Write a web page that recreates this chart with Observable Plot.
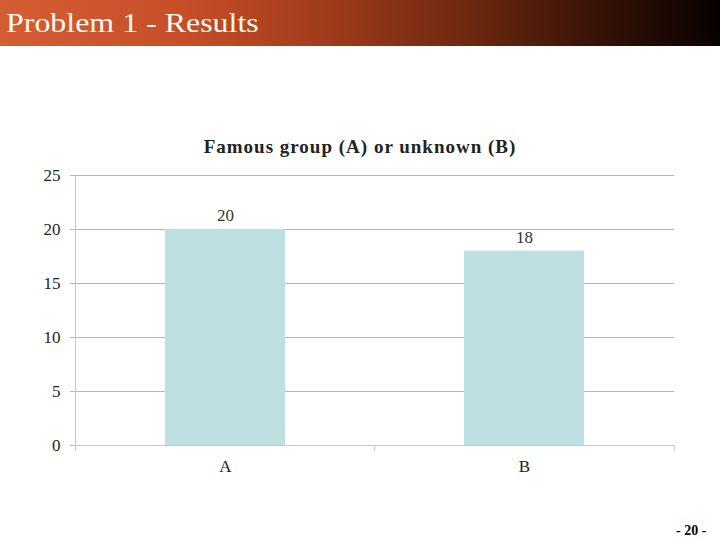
<!DOCTYPE html>
<html>
<head>
<meta charset="utf-8">
<script src="https://cdn.jsdelivr.net/npm/d3@7"></script>
<script src="https://cdn.jsdelivr.net/npm/@observablehq/plot@0.6"></script>
<style>
  html, body { margin: 0; padding: 0; background: #fff; }
  #page { position: relative; width: 720px; height: 540px; overflow: hidden; font-family: "Liberation Serif", "DejaVu Serif", serif; }
  #header { position: absolute; left: 0; top: 0; width: 720px; height: 46px;
    background: linear-gradient(to right, #d65d33 0%, #c74f28 25%, #a03c1c 45%, #6e2810 65%, #3a1406 82%, #080100 100%); }
  #header span { position: absolute; left: 6px; top: 9px; line-height: 28px; color: #fffaf0; font-size: 28px; font-family: "Liberation Serif", serif; transform: scaleX(1.14); transform-origin: left center; white-space: nowrap; }
  #ctitle { position: absolute; left: 0; width: 720px; top: 136px; text-align: center; font-weight: bold; font-size: 19px; color: #222; letter-spacing: 1px; }
  #chart { position: absolute; left: 0; top: 160px; }
  #pnum { position: absolute; left: 676px; top: 523px; font-weight: bold; font-size: 14px; color: #000; }
</style>
</head>
<body>
<div id="page">
  <div id="header"><span>Problem 1 - Results</span></div>
  <div id="ctitle">Famous group (A) or unknown (B)</div>
  <div id="chart"></div>
  <div id="pnum">- 20 -</div>
</div>
<script>
const categories = ["A", "B"];
const values = [20, 18];
const yTicks = [0, 5, 10, 15, 20, 25];

const data = categories.map((c, i) => ({cat: c, value: values[i]}));

const width = 720, height = 325;
const marginLeft = 75, marginRight = 46, marginTop = 15, marginBottom = 40;
const step = (width - marginLeft - marginRight) / categories.length;

const chart = Plot.plot({
  width, height, marginLeft, marginRight, marginTop, marginBottom,
  style: {fontFamily: "'Liberation Serif', serif", fontSize: "17px", color: "#222", background: "transparent"},
  x: {domain: categories, paddingInner: 0.6, paddingOuter: 0.3, label: null},
  y: {domain: [0, 25], label: null},
  marks: [
    Plot.ruleY(yTicks.filter(d => d > 0), {stroke: "#b5b5b5", strokeWidth: 1}),
    Plot.barY(data, {x: "cat", y: "value", fill: "#bde0e3"}),
    Plot.frame({anchor: "left", stroke: "#c8c8c8"}),
    Plot.ruleY([0], {stroke: "#c8c8c8"}),
    Plot.axisY({ticks: yTicks, tickSize: 5, tickPadding: 10, stroke: "#b5b5b5", fill: "#222", fontSize: 17, label: null}),
    Plot.axisX({tickSize: 0, tickPadding: 14, fill: "#222", fontSize: 17, label: null}),
    Plot.ruleX(categories, {x: d => d, dx: -step / 2, y1: 0, y2: 0, stroke: "#c8c8c8", insetBottom: -6}),
    Plot.ruleX([categories[categories.length - 1]], {x: d => d, dx: step / 2, y1: 0, y2: 0, stroke: "#c8c8c8", insetBottom: -6}),
    Plot.text(data, {x: "cat", y: "value", text: d => String(d.value), dy: -14, fill: "#333", fontSize: 17})
  ]
});
document.getElementById("chart").appendChild(chart);
</script>
</body>
</html>
